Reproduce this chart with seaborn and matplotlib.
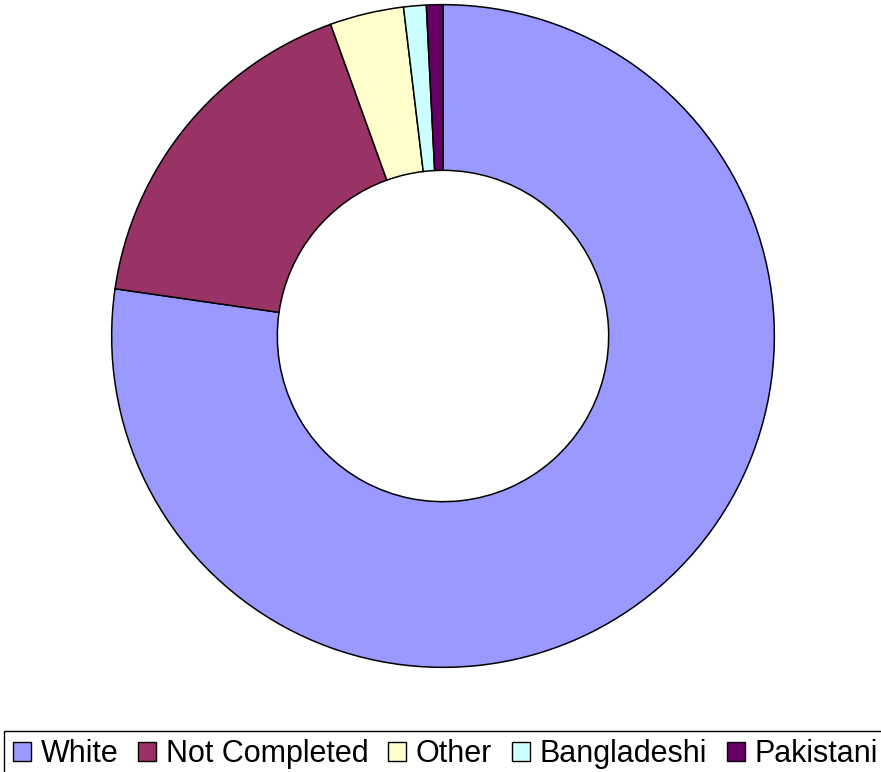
import seaborn as sns
import matplotlib.pyplot as plt
from matplotlib.patches import Patch, Rectangle

categories = ['White', 'Not Completed', 'Other', 'Bangladeshi', 'Pakistani']
shares = [77.2, 17.2, 3.6, 1.1, 0.8]
colors = ['#9999FF', '#993366', '#FFFFCC', '#CCFFFF', '#660066']

sns.set_style('white')
plt.rcParams['font.family'] = ['Liberation Sans', 'DejaVu Sans']

fig = plt.figure(figsize=(8.81, 7.72), dpi=100)
ax = fig.add_axes([110 / 881, 103 / 772, 666 / 881, 666 / 772])
wedges, _ = ax.pie(shares, colors=colors, startangle=90, counterclock=False,
                   radius=1, wedgeprops=dict(width=0.5, edgecolor='black', linewidth=1.1))
ax.set_xlim(-1.005, 1.005)
ax.set_ylim(-1.005, 1.005)
ax.set_aspect('equal')
ax.axis('off')

# legend box runs off the right and bottom edges, as in the original
fig.patches.append(Rectangle((4 / 881, -0.1), 1.0, (772 - 731) / 772 + 0.1,
                             transform=fig.transFigure, fill=False,
                             edgecolor='black', linewidth=1.0))

handles = [Patch(facecolor=c, edgecolor='black', linewidth=1.0) for c in colors]
leg = fig.legend(handles, categories, loc='center left', bbox_to_anchor=(13 / 881, 1 - 754 / 772),
                 ncol=5, fontsize=22, frameon=False, labelcolor='black',
                 handlelength=0.6, handleheight=0.6, handletextpad=0.3,
                 columnspacing=0.65, borderpad=0, borderaxespad=0)

fig.savefig('out.png', dpi=100)
